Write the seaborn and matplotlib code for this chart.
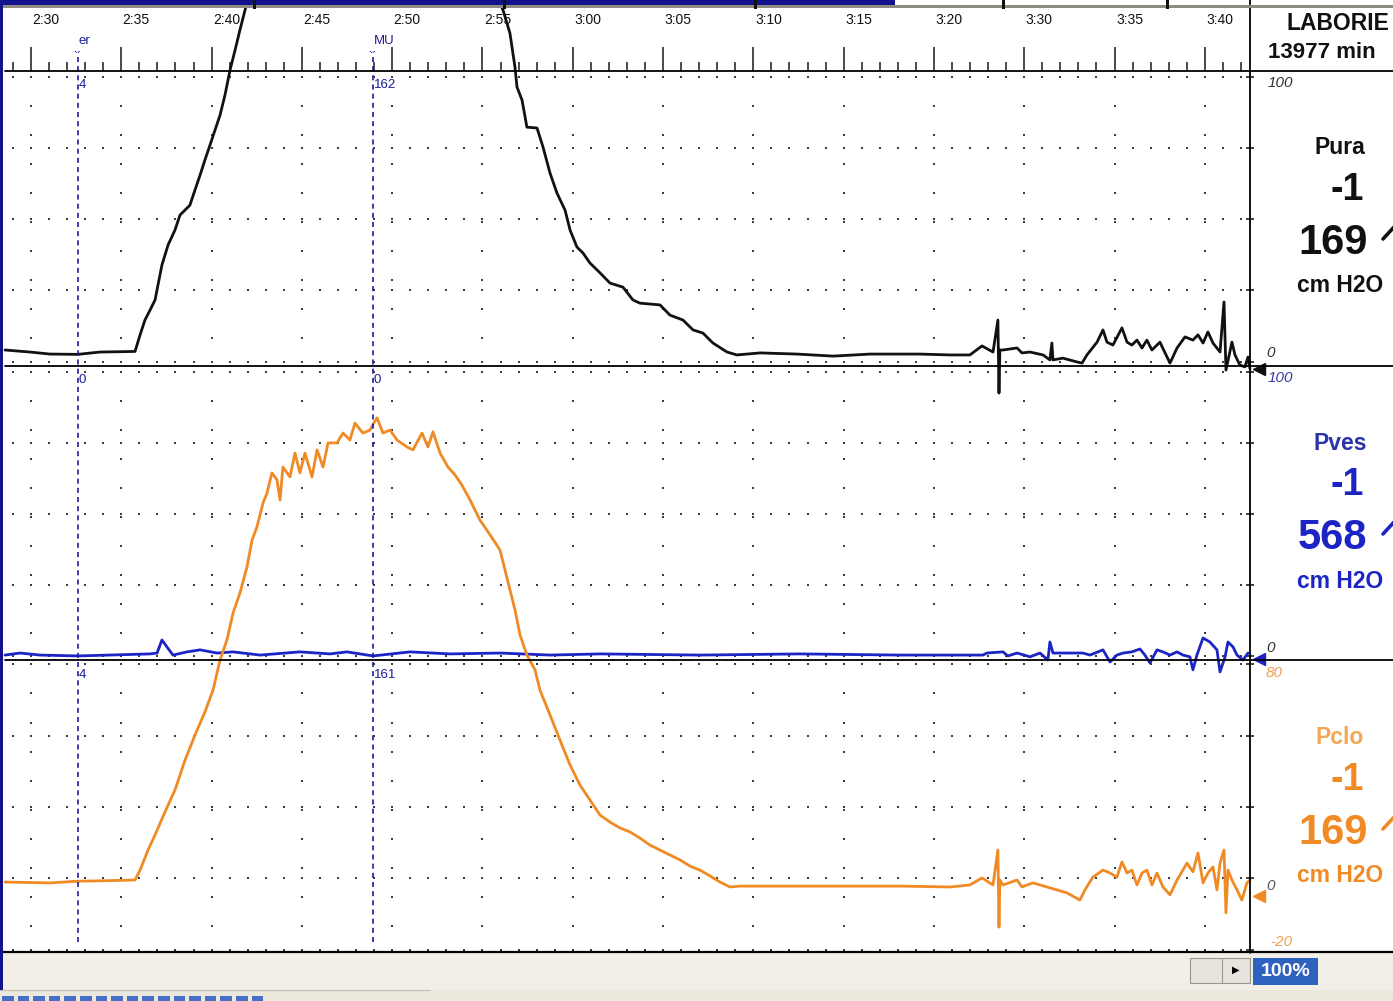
import numpy as np
import seaborn as sns
import matplotlib
matplotlib.use("Agg")
import matplotlib.pyplot as plt
from matplotlib.patches import Rectangle
from matplotlib.lines import Line2D
from matplotlib.transforms import blended_transform_factory

sns.set_theme(style="white")
plt.rcParams['font.family'] = ['Liberation Sans', 'DejaVu Sans']

# ---------------- recording window (seconds, 2:30 -> 150 s) ----------------
T_START, T_END = 148.56, 217.50
tick_times = [150, 155, 160, 165, 170, 175, 180, 185, 190, 195, 200, 205, 210, 215]
tick_labels = ["2:30", "2:35", "2:40", "2:45", "2:50", "2:55", "3:00", "3:05",
               "3:10", "3:15", "3:20", "3:30", "3:35", "3:40"]

# ---------------- event markers ----------------
event_names = ["er", "MU"]
event_times = [152.60, 168.94]
event_pura = ["4", "162"]
event_pves = ["0", "0"]
event_pclo = ["4", "161"]

# ---------------- channel readouts ----------------
channel_names = ["Pura", "Pves", "Pclo"]
channel_current = [-1, -1, -1]
channel_max = [169, 568, 169]
channel_unit = "cm H2O"

# ---------------- Pura (urethral pressure) ----------------
pura_t = [148.56, 149.94, 151.05, 152.60, 153.82, 155.76, 156.04, 156.31, 156.59, 156.87,
          157.03, 157.25, 157.59, 157.97, 158.25, 158.53, 158.80, 159.08, 159.36, 159.63,
          159.91, 160.19, 160.47, 160.74, 161.02, 161.30, 161.57, 161.85, 162.13, 162.85,
          163.95, 165.84, 167.28, 168.38, 168.94, 170.27, 171.15, 173.09, 174.86, 175.69,
          176.14, 176.52, 176.80, 176.91, 177.19, 177.46, 178.02, 178.35, 178.74, 179.12,
          179.57, 179.85, 180.23, 180.57, 180.95, 181.51, 182.06, 182.78, 183.33, 183.72,
          184.83, 185.38, 186.10, 186.66, 187.21, 187.76, 188.54, 189.09, 190.37, 192.41,
          194.41, 196.46, 199.22, 200.89, 201.99, 202.66, 203.27, 203.54, 203.60, 203.65,
          203.82, 204.60, 204.87, 205.32, 206.04, 206.42, 206.53, 206.59, 207.14, 207.92,
          208.20, 208.47, 209.03, 209.36, 209.58, 209.91, 210.41, 210.69, 210.96, 211.24,
          211.52, 211.79, 212.07, 212.51, 213.07, 213.46, 213.90, 214.34, 214.62, 214.90,
          215.17, 215.45, 215.84, 216.06, 216.17, 216.50, 216.67, 216.94, 217.22, 217.39,
          217.50]
pura_v = [5.5, 4.8, 4.1, 4.0, 4.8, 5.0, 10.7, 15.8, 19.2, 22.7,
          27.8, 34.7, 41.6, 46.7, 51.9, 53.6, 55.3, 60.5, 65.6, 70.8,
          75.9, 81.1, 86.3, 93.1, 101.7, 108.6, 115.5, 122.3, 129.2, 136.0,
          147.0, 153.0, 158.0, 159.0, 162.0, 169.0, 155.0, 147.0, 135.0, 128.5,
          122.3, 114.4, 102.7, 95.9, 91.4, 82.1, 81.8, 75.3, 66.3, 59.5,
          53.6, 46.7, 40.9, 38.8, 35.4, 32.0, 28.5, 27.1, 22.7, 21.6,
          21.0, 17.5, 15.8, 12.4, 11.3, 7.9, 4.8, 3.8, 4.5, 4.1,
          3.4, 4.1, 4.1, 3.8, 3.8, 6.9, 4.8, 15.8, -9.3, 5.5,
          5.5, 6.2, 4.5, 4.8, 3.8, 2.1, 7.9, 2.1, 2.7, 1.4,
          1.0, 3.8, 8.2, 12.4, 8.2, 7.2, 13.1, 8.2, 7.2, 8.9,
          6.2, 8.9, 5.5, 8.2, 1.0, 6.2, 10.0, 8.9, 10.7, 7.9,
          11.7, 7.9, 4.8, 22.0, -1.4, 8.2, 3.8, 0.3, -0.3, 3.1,
          -1.0]

# ---------------- Pves (vesical pressure) ----------------
pves_t = [148.56, 149.39, 150.50, 152.60, 156.59, 156.98, 157.25, 157.53, 157.86, 158.64,
          159.36, 160.30, 161.19, 162.68, 164.89, 166.56, 167.50, 168.94, 170.99, 173.20,
          175.97, 178.74, 181.51, 187.04, 192.58, 198.12, 202.71, 202.93, 203.82, 204.09,
          204.60, 205.32, 205.87, 206.31, 206.42, 206.59, 207.53, 208.25, 208.64, 209.36,
          209.75, 210.13, 210.47, 210.96, 211.41, 211.68, 211.96, 212.35, 212.68, 213.07,
          213.46, 213.79, 214.17, 214.34, 214.56, 214.90, 215.28, 215.67, 215.84, 216.12,
          216.28, 216.56, 216.78, 217.11, 217.39]
pves_v = [0.3, 1.0, 0.3, 0.0, 0.7, 1.0, 5.5, 3.1, 0.3, 1.4,
          2.1, 1.0, 1.4, 0.3, 1.4, 0.7, 1.4, 0.0, 1.4, 0.7,
          1.0, 0.3, 0.7, 0.3, 0.7, 0.3, 0.3, 1.0, 1.4, 0.0,
          1.0, -0.3, 1.0, -1.4, 4.8, 1.0, 1.0, 1.0, 0.3, 2.1,
          -2.1, 0.3, 1.0, 1.4, 2.4, 0.3, -2.4, 2.1, 1.4, 0.3,
          1.4, 0.3, -0.3, -4.8, 0.3, 6.2, 4.8, 2.1, -5.5, -0.3,
          4.8, 3.1, 0.3, -1.4, 1.0]

# ---------------- Pclo (closure pressure) ----------------
pclo_t = [148.56, 151.05, 152.60, 153.82, 155.76, 156.04, 156.48, 156.87, 157.42, 157.97,
          158.53, 159.08, 159.63, 160.08, 160.47, 160.85, 161.19, 161.57, 161.96, 162.24,
          162.51, 162.85, 163.07, 163.34, 163.62, 163.79, 163.95, 164.34, 164.62, 164.89,
          165.17, 165.56, 165.84, 166.17, 166.45, 166.94, 167.28, 167.66, 167.94, 168.38,
          168.77, 168.94, 169.16, 169.49, 169.88, 170.27, 170.82, 171.15, 171.65, 171.98,
          172.26, 172.65, 173.09, 173.48, 173.86, 174.31, 174.86, 175.42, 175.97, 176.25,
          176.52, 176.80, 177.08, 177.46, 177.91, 178.18, 178.74, 179.29, 179.85, 180.40,
          180.95, 181.51, 182.06, 182.61, 183.17, 183.72, 184.27, 184.83, 185.38, 185.94,
          186.49, 187.04, 187.60, 188.15, 188.70, 189.26, 192.58, 198.12, 200.89, 201.99,
          202.66, 203.27, 203.54, 203.60, 203.65, 203.82, 204.60, 204.87, 205.48, 206.26,
          206.81, 207.36, 208.08, 208.36, 208.80, 209.36, 209.75, 210.13, 210.41, 210.69,
          210.96, 211.24, 211.52, 211.79, 212.07, 212.35, 212.68, 213.07, 213.46, 214.01,
          214.34, 214.62, 214.90, 215.17, 215.45, 215.67, 215.84, 216.06, 216.17, 216.28,
          216.50, 216.78, 217.05, 217.33, 217.50]
pclo_v = [3.7, 3.4, 4.0, 4.1, 4.4, 7.8, 14.7, 19.9, 27.8, 35.3,
          45.6, 54.2, 62.1, 69.7, 80.0, 86.9, 96.2, 103.0, 112.0, 121.2,
          125.7, 134.0, 137.4, 144.3, 141.9, 135.0, 146.3, 142.9, 151.1, 144.3,
          151.1, 142.9, 152.2, 146.3, 154.6, 154.6, 158.0, 155.6, 161.4, 158.0,
          159.0, 161.0, 163.2, 158.0, 159.0, 155.6, 153.2, 152.2, 158.0, 153.2,
          158.4, 151.1, 146.3, 143.6, 140.1, 135.0, 128.1, 123.0, 117.8, 110.9,
          104.1, 97.2, 88.6, 81.7, 76.6, 69.7, 61.1, 52.5, 43.9, 37.0,
          31.9, 26.7, 24.3, 22.3, 20.9, 18.8, 16.4, 14.7, 13.0, 11.3,
          9.2, 7.8, 5.8, 3.7, 2.0, 2.3, 2.3, 2.3, 2.0, 2.7,
          5.1, 2.7, 14.7, -11.8, 4.4, 2.7, 4.4, 2.0, 3.4, 2.0,
          1.0, 0.0, -2.5, 1.0, 5.4, 7.8, 6.8, 5.4, 10.6, 6.8,
          7.8, 2.7, 6.8, 7.8, 2.7, 6.8, 2.0, -0.7, 4.4, 10.2,
          7.2, 13.7, 3.4, 6.8, 8.9, 1.0, 10.2, 14.7, -6.9, 7.8,
          4.4, 1.0, -2.5, 3.4, 4.4]

# ---------------- colours ----------------
C_PURA = "#111111"
C_PVES = "#1c24c4"
C_PCLO = "#f08a24"
C_EVENT = "#1c1c9a"
C_DOT = "#3c3c3c"

W, H = 1393, 1001
fig = plt.figure(figsize=(W / 100, H / 100), dpi=100)
fig.patch.set_facecolor("white")


def fx(px):
    return px / W


def fy(py):
    return 1 - py / H


# ---------------- three stacked channel panels ----------------
PLOT_L, PLOT_R = 5, 1250
panel_rows = [(71, 366), (366, 660), (660, 951)]
panel_ylims = [(0, 101.4), (-1.4, 100), (-20, 80)]
dense_rows = [[99.5, 75.0, 50.5, 26.0, 1.5],
              [98.0, 73.5, 49.0, 24.5, 0.0],
              [78.5, 54.0, 29.5, 5.0, -19.5]]
seconds = np.arange(149, 218)

axes = []
for (top, bot), yl, rows in zip(panel_rows, panel_ylims, dense_rows):
    ax = fig.add_axes([fx(PLOT_L), fy(bot), (PLOT_R - PLOT_L) / W, (bot - top) / H])
    ax.set_xlim(T_START, T_END)
    ax.set_ylim(*yl)
    for s in ax.spines.values():
        s.set_visible(False)
    ax.set_yticks([])
    ax.set_xticks([])
    ax.patch.set_alpha(0)
    # dotted grid: dense rows every second, sparse columns every 10 units
    gx, gy = np.meshgrid(seconds, rows)
    ax.scatter(gx.ravel(), gy.ravel(), s=2.2, marker="s", color=C_DOT, linewidths=0, zorder=1)
    col_levels = np.arange(rows[0], yl[0], -10.0)
    cx, cy = np.meshgrid(tick_times, col_levels)
    ax.scatter(cx.ravel(), cy.ravel(), s=2.2, marker="s", color=C_DOT, linewidths=0, zorder=1)
    # small ticks on the right-hand scale line
    ax.plot([T_END] * len(rows), rows, marker="_", ms=6, mew=1.2, ls="none",
            color="#222222", clip_on=False, zorder=3)
    axes.append(ax)

ax1, ax2, ax3 = axes

# time axis on top of the first panel
ax1.xaxis.set_ticks_position("top")
ax1.set_xticks(tick_times)
ax1.set_xticks(seconds, minor=True)
ax1.set_xticklabels([])
ax1.tick_params(axis="x", which="major", length=17, width=1.1, color="k",
                direction="out", top=True, bottom=False, labeltop=False, labelbottom=False)
ax1.tick_params(axis="x", which="minor", length=6.5, width=1.1, color="k",
                direction="out", top=True, bottom=False)

bt = blended_transform_factory(ax1.transData, fig.transFigure)
for t, lab in zip(tick_times, tick_labels):
    ax1.text(t + 0.83, fy(20), lab, transform=bt, ha="center", va="center",
             fontsize=10, color="#111111", clip_on=False, zorder=6)

# ---------------- traces ----------------
sns.lineplot(x=pura_t, y=pura_v, ax=ax1, color=C_PURA, linewidth=2.0,
             estimator=None, sort=False, clip_on=False, zorder=5)
sns.lineplot(x=pves_t, y=pves_v, ax=ax2, color=C_PVES, linewidth=2.0,
             estimator=None, sort=False, clip_on=False, zorder=5)
sns.lineplot(x=pclo_t, y=pclo_v, ax=ax3, color=C_PCLO, linewidth=2.0,
             estimator=None, sort=False, clip_on=False, zorder=5)

# current-value pointers at the right edge
for ax, cur, col in zip(axes, channel_current, [C_PURA, C_PVES, C_PCLO]):
    ax.plot([T_END + 0.5], [cur], marker="<", ms=9, color=col, clip_on=False, zorder=6)

# ---------------- event markers ----------------
for t, name, vp, vv, vc in zip(event_times, event_names, event_pura, event_pves, event_pclo):
    fig.add_artist(Line2D([t, t], [fy(57), fy(945)], transform=bt, color=C_EVENT,
                          lw=1.2, ls=(0, (3, 2.5))))
    ax1.text(t + 0.05, fy(41), name, transform=bt, ha="left", va="center",
             fontsize=9.5, color=C_EVENT, clip_on=False)
    ax1.text(t, fy(58), "`\u00b4", transform=bt, ha="center", va="center",
             fontsize=9, color=C_EVENT, clip_on=False)
    for val, py in zip([vp, vv, vc], [85, 380, 675]):
        ax1.text(t + 0.05, fy(py), val, transform=bt, ha="left", va="center",
                 fontsize=9.5, color=C_EVENT, clip_on=False)

# ---------------- frame lines ----------------
def hline(py, x0, x1, lw=1.3, color="black"):
    fig.add_artist(Line2D([fx(x0), fx(x1)], [fy(py), fy(py)], color=color, lw=lw,
                          transform=fig.transFigure))


hline(71, PLOT_L, W)
hline(366, PLOT_L, W)
hline(660, PLOT_L, W)
hline(952, 0, W, lw=1.6)
fig.add_artist(Line2D([fx(1250), fx(1250)], [fy(0), fy(953)], color="black", lw=1.3,
                      transform=fig.transFigure))

# ---------------- right-hand readout column ----------------
fig.text(fx(1287), fy(24), "LABORIE", fontsize=16.5, fontweight="bold", ha="left",
         va="center", color="#111111")
fig.text(fx(1268), fy(53), "13977 min", fontsize=16, fontweight="bold", ha="left",
         va="center", color="#111111")

name_cols = ["#111111", "#2a34a8", "#f2a656"]
num_cols = [C_PURA, C_PVES, C_PCLO]
for i, (nm, cur, mx) in enumerate(zip(channel_names, channel_current, channel_max)):
    dy = 295 * i
    fig.text(fx(1340), fy(148 + dy), nm, fontsize=16.5, fontweight="bold", ha="center",
             va="center", color=name_cols[i])
    fig.text(fx(1347), fy(190 + dy), f"{cur}", fontsize=27, fontweight="bold", ha="center",
             va="center", color=num_cols[i])
    fig.text(fx(1298), fy(243 + dy), f"{mx}", fontsize=30, fontweight="bold", ha="left",
             va="center", color=num_cols[i])
    # start of the trend arrow, cut by the window edge
    fig.add_artist(Line2D([fx(1383), fx(1395)], [fy(239 + dy), fy(226 + dy)],
                          color=num_cols[i], lw=2.6, transform=fig.transFigure))
    fig.text(fx(1340), fy(286 + dy), channel_unit, fontsize=16.5, fontweight="bold",
             ha="center", va="center", color=num_cols[i] if i else "#111111")

scale_labels = [("100", 1268, 83, "#333333"), ("0", 1266, 353, "#333333"),
                ("100", 1268, 378, "#3a3aa8"), ("0", 1266, 648, "#333333"),
                ("80", 1266, 673, "#f0a050"), ("0", 1266, 886, "#555555"),
                ("-20", 1270, 942, "#f0a050")]
for txt, px, py, col in scale_labels:
    fig.text(fx(px), fy(py), txt, fontsize=11, style="italic", ha="left", va="center", color=col)

# ---------------- window chrome ----------------
fig.add_artist(Rectangle((0, 0), 1, fy(953), transform=fig.transFigure,
                         facecolor="#f1efe7", edgecolor="none", zorder=0.5))
fig.add_artist(Rectangle((0, 0), 1, fy(990), transform=fig.transFigure,
                         facecolor="#ebe8dc", edgecolor="none", zorder=0.6))
hline(990, 0, 430, lw=1.0, color="#c9c5b8")
for k in range(17):
    x0 = 2 + k * 15.6
    fig.add_artist(Rectangle((fx(x0), fy(1001)), fx(11.5), 5 / H, transform=fig.transFigure,
                             facecolor="#4670c8", edgecolor="none", zorder=1))
# scroll button and zoom box
fig.add_artist(Rectangle((fx(1190), fy(983)), fx(60), 25 / H, transform=fig.transFigure,
                         facecolor="#e6e4dc", edgecolor="#9a978c", lw=0.8, zorder=1))
fig.add_artist(Line2D([fx(1222), fx(1222)], [fy(983), fy(958)], color="#9a978c", lw=0.8,
                      transform=fig.transFigure))
fig.text(fx(1236), fy(970), "\u25b6", fontsize=7, ha="center", va="center", color="black",
         family=["DejaVu Sans"])
fig.add_artist(Rectangle((fx(1253), fy(985)), fx(65), 27 / H, transform=fig.transFigure,
                         facecolor="#2f62bf", edgecolor="none", zorder=1))
fig.text(fx(1285.5), fy(971), "100%", fontsize=14, fontweight="bold", ha="center",
         va="center", color="white")

# title bar strip and left border
fig.add_artist(Rectangle((0, fy(5)), fx(895), 5 / H, transform=fig.transFigure,
                         facecolor="#12128c", edgecolor="none", zorder=4))
fig.add_artist(Rectangle((0, fy(8)), 1, 3 / H, transform=fig.transFigure,
                         facecolor="#8e8b80", edgecolor="none", zorder=4))
for xd in [254, 504, 755, 1003, 1167]:
    fig.add_artist(Rectangle((fx(xd - 1.5), fy(9)), fx(3), 9 / H, transform=fig.transFigure,
                             facecolor="#111111", edgecolor="none", zorder=4))
fig.add_artist(Rectangle((0, fy(990)), fx(3), 990 / H, transform=fig.transFigure,
                         facecolor="#12128c", edgecolor="none", zorder=4))

fig.savefig("out.png", dpi=100)
